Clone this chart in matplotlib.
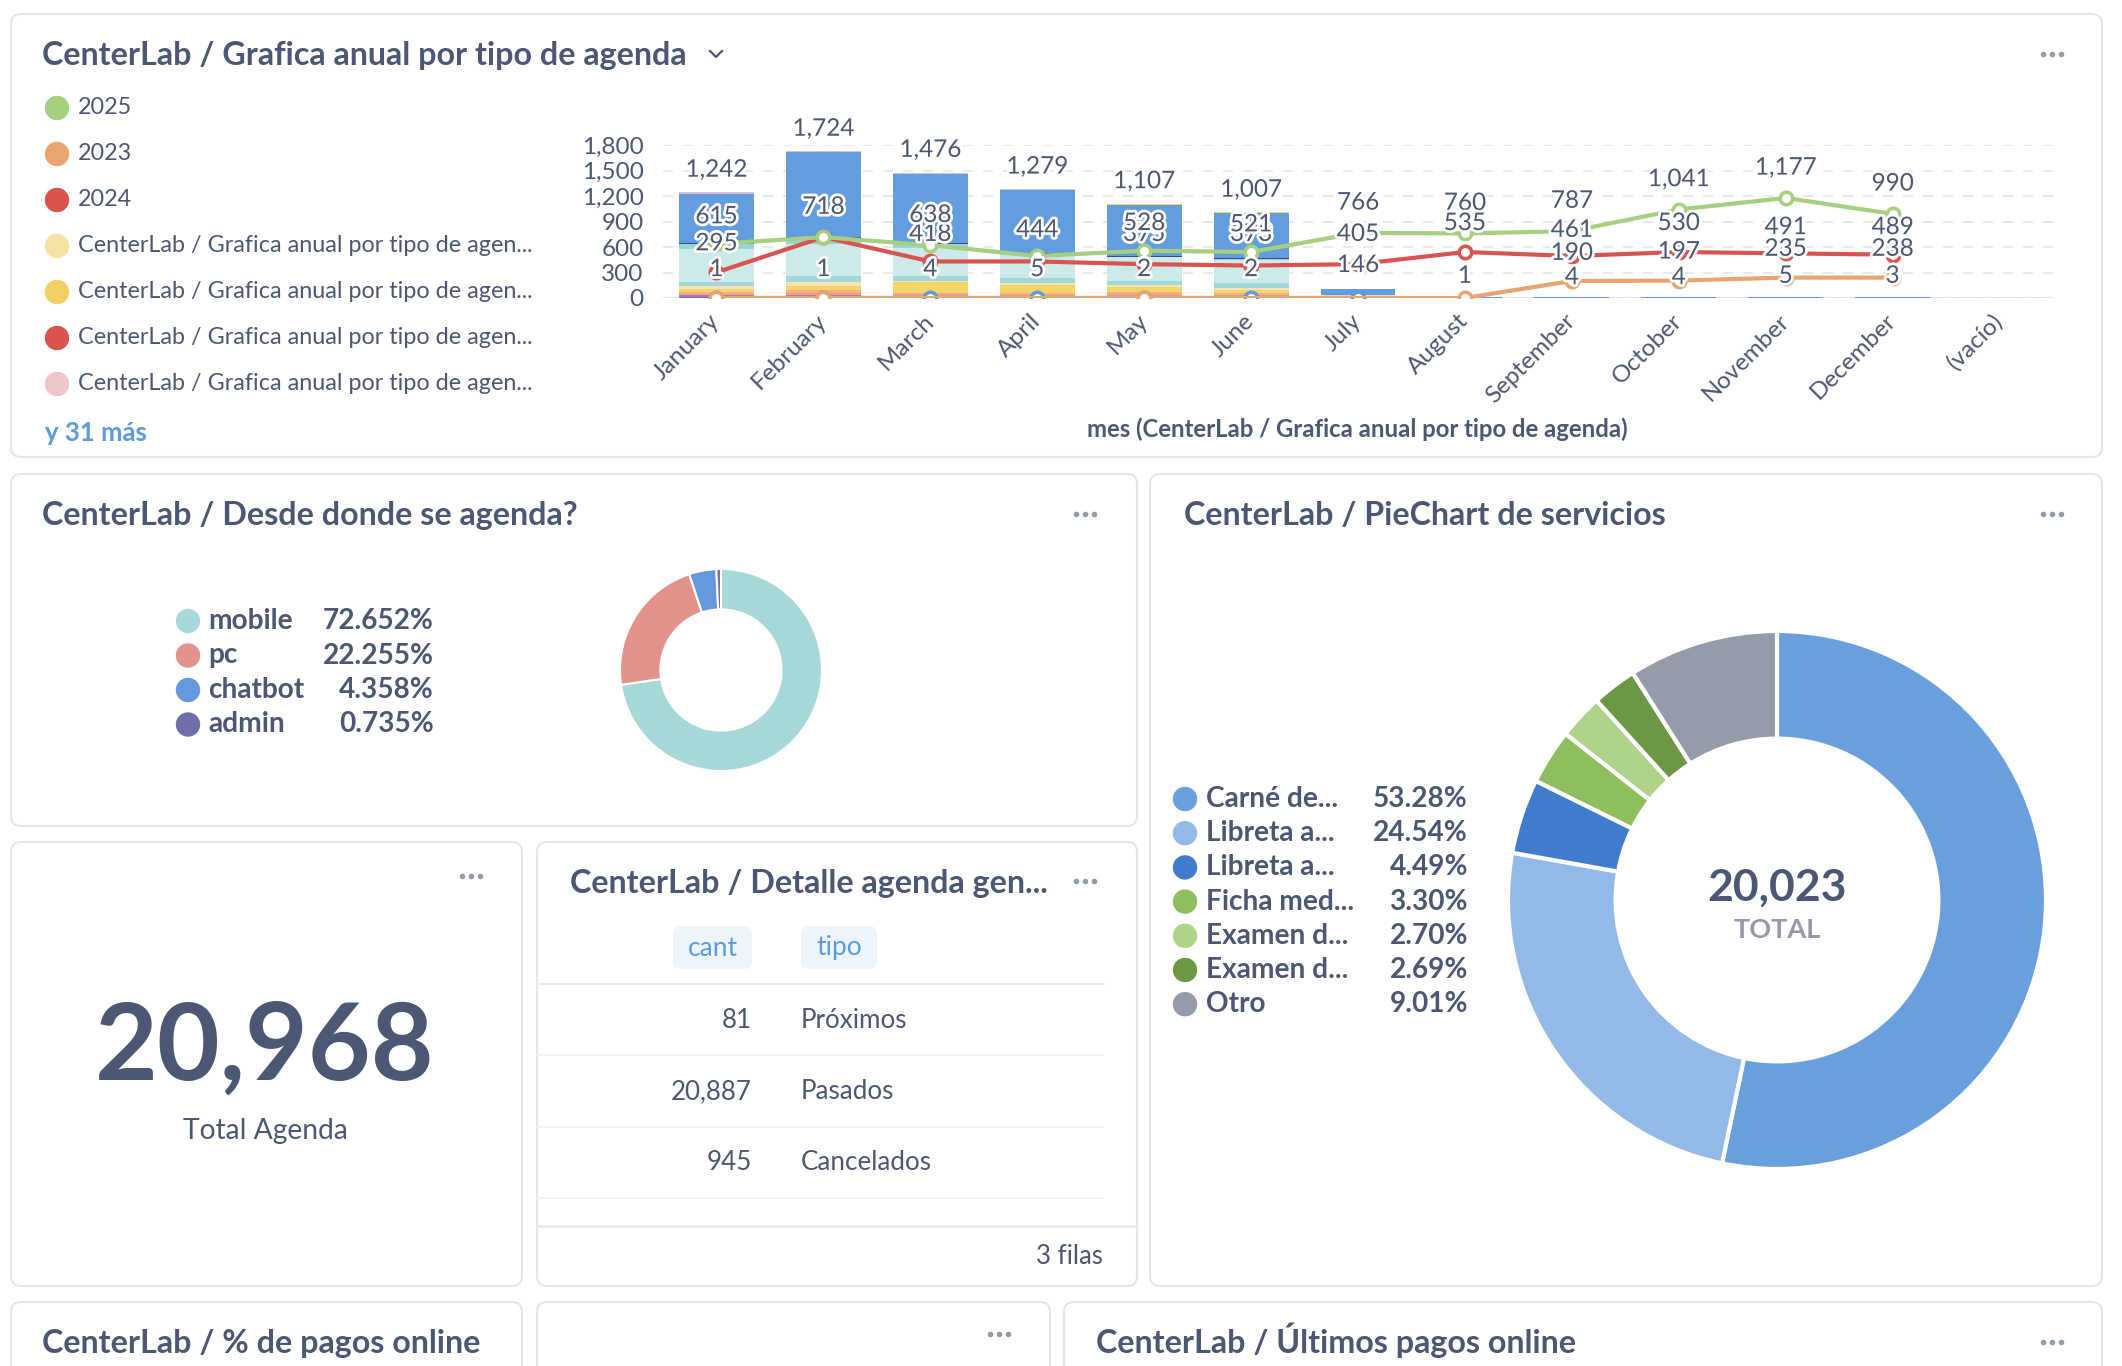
import matplotlib
matplotlib.use("Agg")
import matplotlib.pyplot as plt
import matplotlib.patheffects as pe
from matplotlib.patches import FancyBboxPatch, Circle
import numpy as np

plt.rcParams["font.family"] = ["Lato", "DejaVu Sans"]

# ---------------- data ----------------
months = ["January", "February", "March", "April", "May", "June", "July",
          "August", "September", "October", "November", "December", "(vacío)"]

# stacked bar segments, bottom -> top (one value per month)
seg_indigo = [10, 10, 8, 8, 8, 6, 0, 0, 0, 0, 0, 0, 0]
seg_magenta = [25, 30, 20, 15, 20, 15, 0, 0, 0, 0, 0, 0, 0]
seg_pink = [15, 20, 15, 12, 15, 12, 0, 0, 0, 0, 0, 0, 0]
seg_orange = [25, 30, 20, 20, 30, 20, 0, 0, 0, 0, 0, 0, 0]
seg_yellow = [35, 55, 120, 100, 55, 40, 0, 0, 0, 0, 0, 0, 0]
seg_cream = [30, 40, 20, 25, 20, 25, 0, 0, 0, 0, 0, 0, 0]
seg_teal = [50, 75, 60, 60, 55, 55, 0, 0, 0, 0, 0, 0, 0]
seg_lightteal = [390, 375, 330, 270, 275, 270, 40, 0, 0, 0, 0, 0, 0]
seg_teal2 = [55, 75, 40, 10, 10, 10, 0, 0, 0, 0, 0, 0, 0]
seg_navy = [15, 12, 15, 15, 12, 12, 0, 0, 0, 0, 0, 0, 0]
seg_blue = [577, 990, 816, 732, 592, 530, 70, 8, 8, 8, 8, 8, 0]
seg_cap_lilac = [15, 12, 12, 12, 0, 0, 0, 0, 0, 0, 0, 0, 0]
seg_cap_yellow = [0, 0, 0, 0, 15, 12, 0, 0, 0, 0, 0, 0, 0]

# lines per year (12 months)
line_2025 = [637, 716, 621, 494, 557, 541, 766, 760, 787, 1041, 1177, 990]
line_2024 = [302, 716, 430, 430, 398, 382, 398, 541, 494, 541, 525, 510]
line_2023 = [0, 0, 0, 0, 0, 0, 0, 0, 200, 205, 240, 240]
line_base = [0, 0, 0, 0, 0, 0, 0]

# data labels
top_labels = [1242, 1724, 1476, 1279, 1107, 1007, 766, 760, 787, 1041, 1177, 990]
lbl_a = ["615", "718", "638", "444", "528", "521", "405", "535", "461", "530", "491", "489"]
lbl_a_y = [955, 1067, 971, 796, 876, 860, 748, 876, 796, 876, 828, 828]
lbl_b = ["295", None, "418", None, "375", "373", None, None, None, None, None, None]
lbl_b_y = [637, 0, 748, 0, 748, 748, 0, 0, 0, 0, 0, 0]
lbl_c = [None, None, None, None, None, None, "146", None, "190", "197", "235", "238"]
lbl_c_y = [0, 0, 0, 0, 0, 0, 382, 0, 525, 541, 573, 573]
lbl_d = ["1", "1", "4", "5", "2", "2", None, "1", "4", "4", "5", "3"]
lbl_d_y = [334, 334, 334, 334, 334, 334, 0, 255, 239, 239, 255, 255]

legend_names = ["2025", "2023", "2024",
                "CenterLab / Grafica anual por tipo de agen...",
                "CenterLab / Grafica anual por tipo de agen...",
                "CenterLab / Grafica anual por tipo de agen...",
                "CenterLab / Grafica anual por tipo de agen..."]
legend_more = "y 31 más"

desde_labels = ["mobile", "pc", "chatbot", "admin"]
desde_pct = [72.652, 22.255, 4.358, 0.735]

serv_labels = ["Carné de...", "Libreta a...", "Libreta a...", "Ficha med...",
               "Examen d...", "Examen d...", "Otro"]
serv_pct = [53.28, 24.54, 4.49, 3.30, 2.70, 2.69, 9.01]
serv_total = 20023

kpi_total = 20968

tbl_cant = [81, 20887, 945]
tbl_tipo = ["Próximos", "Pasados", "Cancelados"]

# ---------------- figure ----------------
W, H = 2122, 1366
DARK = "#4C5773"
GRAY = "#949AAB"
fig = plt.figure(figsize=(W / 100, H / 100), dpi=100)
fig.patch.set_facecolor("white")

bg = fig.add_axes([0, 0, 1, 1])
bg.set_xlim(0, W)
bg.set_ylim(H, 0)
bg.axis("off")


def box(x0, y0, x1, y1):
    return [x0 / W, 1 - y1 / H, (x1 - x0) / W, (y1 - y0) / H]


def card(x0, y0, x1, y1):
    bg.add_patch(FancyBboxPatch((x0, y0), x1 - x0, y1 - y0,
                                boxstyle="round,pad=0,rounding_size=10",
                                fc="white", ec="#E3E5EA", lw=1.5))


def dots(x, y):
    bg.scatter([x - 9, x, x + 9], [y, y, y], s=9, color=GRAY, zorder=5)


def title(x, y, s):
    # baseline-anchored so accents don't shift the line
    bg.text(x, y + 8, s, fontsize=23.2, fontweight="bold", color=DARK, va="baseline")


card(11, 14, 2102, 457)
card(11, 474, 1137, 826)
card(1150, 474, 2102, 1286)
card(11, 842, 522, 1286)
card(537, 842, 1137, 1286)
card(11, 1302, 522, 1400)
card(537, 1302, 1050, 1400)
card(1064, 1302, 2102, 1400)

# ---------- top card: annual chart ----------
title(42, 57, "CenterLab / Grafica anual por tipo de agenda")
bg.plot([710, 716, 722], [51, 57, 51], color=DARK, lw=1.6)
dots(2052, 54)

legend_colors = ["#A6CF80", "#E9A56F", "#D9534F", "#F6E3A3", "#F2CF62", "#D9534F", "#F1C4C6"]
for i, (name, col) in enumerate(zip(legend_names, legend_colors)):
    y = 108 + i * 46
    bg.add_patch(Circle((57, y), 11.5, color=col))
    bg.text(78, y, name, fontsize=16.8, color=DARK, va="center")
bg.text(45, 433, legend_more, fontsize=18.5, fontweight="bold", color="#5C9BDD", va="center")

ax = fig.add_axes(box(663, 145, 2053, 298))
ax.set_facecolor("none")
x = np.arange(len(months))
segments = [
    (seg_indigo, "#6E72AE"), (seg_magenta, "#B872B0"), (seg_pink, "#EE9A9A"),
    (seg_orange, "#F2B27A"), (seg_yellow, "#F5D468"), (seg_cream, "#F5E2B8"),
    (seg_teal, "#9FD8D8"), (seg_lightteal, "#CDEAEA"), (seg_teal2, "#98D4D4"),
    (seg_navy, "#3E4C7E"), (seg_blue, "#619DDF"), (seg_cap_lilac, "#D9BFDD"),
    (seg_cap_yellow, "#F5D468"),
]
bottom = np.zeros(len(months))
for vals, col in segments:
    ax.bar(x, vals, width=0.7, bottom=bottom, color=col, zorder=2)
    bottom += np.array(vals)

xm = np.arange(12)
ax.plot(np.arange(len(line_base)), line_base, color="#5C9BDD", lw=3, marker="o",
        ms=9, mfc="white", mew=2.5, zorder=4)
ax.plot(xm, line_2023, color="#E9A56F", lw=3, marker="o", ms=9, mfc="white",
        mew=2.5, markevery=[0, 1, 4, 7, 8, 9, 10, 11], zorder=5)
ax.plot(xm, line_2024, color="#D9534F", lw=3, marker="o", ms=9, mfc="white",
        mew=2.5, zorder=5)
ax.plot(xm, line_2025, color="#A6CF80", lw=3, marker="o", ms=9, mfc="white",
        mew=2.5, zorder=6)

halo = [pe.withStroke(linewidth=4, foreground="white")]
lab_kw = dict(fontsize=17.5, color=DARK, ha="center", va="center", zorder=10,
              path_effects=halo, clip_on=False)
for i in range(12):
    top = max(bottom[i], line_2025[i])
    off = 16 if bottom[i] >= line_2025[i] else 21.5
    ax.annotate(f"{top_labels[i]:,}", (i, top), xytext=(0, off),
                textcoords="offset points", **lab_kw)
for labs, ys in [(lbl_d, lbl_d_y), (lbl_c, lbl_c_y), (lbl_b, lbl_b_y), (lbl_a, lbl_a_y)]:
    for i, (t, yv) in enumerate(zip(labs, ys)):
        if t is not None:
            ax.text(i, yv, t, **lab_kw)

ax.set_xlim(-0.5, len(months) - 0.5)
ax.set_ylim(0, 1800)
ax.set_yticks(range(0, 1801, 300))
ax.set_yticklabels([f"{v:,}" for v in range(0, 1801, 300)])
ax.set_xticks(x)
ax.set_xticklabels(months, rotation=45, ha="right", va="center", rotation_mode="anchor")
ax.tick_params(length=0, labelsize=17.5, labelcolor=DARK)
ax.tick_params(axis="y", pad=14)
ax.tick_params(axis="x", pad=14)
for s in ax.spines.values():
    s.set_visible(False)
ax.grid(axis="y", color="#E4E5EA", lw=1.2, ls=(0, (6, 6)), zorder=0)
ax.axhline(0, color="#E0E1E5", lw=1.5, zorder=1)
bg.text(1357, 429, "mes (CenterLab / Grafica anual por tipo de agenda)", fontsize=17.2,
        fontweight="bold", color=DARK, ha="center", va="center")

# ---------- desde donde se agenda ----------
title(42, 517, "CenterLab / Desde donde se agenda?")
dots(1085, 514)
desde_colors = ["#A7D8D8", "#E3938C", "#6499DE", "#6E6EA8"]
for i, (lab, p, col) in enumerate(zip(desde_labels, desde_pct, desde_colors)):
    y = 621 + i * 34.5
    bg.add_patch(Circle((188, y), 11.5, color=col))
    bg.text(208, y, lab, fontsize=20.2, fontweight="bold", color=DARK, va="center")
    bg.text(434, y, f"{p:.3f}%", fontsize=20.2, fontweight="bold", color=DARK,
            va="center", ha="right")
pa = fig.add_axes(box(620, 569, 822, 771))
pa.pie(desde_pct, colors=desde_colors, startangle=90, counterclock=False, radius=1,
       wedgeprops=dict(width=0.4, edgecolor="white", linewidth=1.5))
pa.set_xlim(-1, 1)
pa.set_ylim(-1, 1)
pa.set_aspect("equal")

# ---------- pie chart de servicios ----------
title(1184, 517, "CenterLab / PieChart de servicios")
dots(2052, 514)
serv_colors = ["#6A9FDD", "#93BAE6", "#3F7CCB", "#8FBE5E", "#B0D38B", "#6E9745", "#959BA8"]
for i, (lab, p, col) in enumerate(zip(serv_labels, serv_pct, serv_colors)):
    y = 799 + i * 34.2
    bg.add_patch(Circle((1185, y), 11.5, color=col))
    bg.text(1206, y, lab, fontsize=20.2, fontweight="bold", color=DARK, va="center")
    bg.text(1468, y, f"{p:.2f}%", fontsize=20.2, fontweight="bold", color=DARK,
            va="center", ha="right")
pb = fig.add_axes(box(1508, 631, 2046, 1169))
pb.pie(serv_pct, colors=serv_colors, startangle=90, counterclock=False, radius=1,
       wedgeprops=dict(width=0.4, edgecolor="white", linewidth=3))
pb.set_xlim(-1, 1)
pb.set_ylim(-1, 1)
pb.set_aspect("equal")
pb.text(0, 0.045, f"{serv_total:,}", fontsize=32, fontweight="bold", color=DARK,
        ha="center", va="center")
pb.text(0, -0.11, "TOTAL", fontsize=19.5, fontweight="bold", color=GRAY,
        ha="center", va="center")

# ---------- KPI ----------
dots(471, 876)
bg.text(265, 1049, f"{kpi_total:,}", fontsize=78, fontweight="bold", color=DARK,
        ha="center", va="center")
bg.text(265, 1131, "Total Agenda", fontsize=20.3, color=DARK, ha="center", va="center")

# ---------- table ----------
title(570, 885, "CenterLab / Detalle agenda gen...")
dots(1085, 881)
for x0, x1, t in [(673, 752, "cant"), (801, 877, "tipo")]:
    bg.add_patch(FancyBboxPatch((x0, 926), x1 - x0, 43,
                                boxstyle="round,pad=0,rounding_size=8",
                                fc="#EEF4FB", ec="none"))
    bg.text((x0 + x1) / 2, 948, t, fontsize=19, color="#5C9BDD", ha="center", va="center")
bg.plot([537, 1103], [984, 984], color="#E8E9ED", lw=1.5)
for i, (c, t) in enumerate(zip(tbl_cant, tbl_tipo)):
    y = 1020 + i * 71.5
    bg.text(752, y, f"{c:,}", fontsize=18.7, color=DARK, ha="right", va="center")
    bg.text(801, y, t, fontsize=18.7, color=DARK, ha="left", va="center")
    bg.plot([537, 1103], [y + 35, y + 35], color="#F0F1F4", lw=1.2)
bg.plot([537, 1137], [1226, 1226], color="#E8E9ED", lw=2)
bg.text(1103, 1257, "3 filas", fontsize=18.5, color=DARK, ha="right", va="center")

# ---------- bottom row ----------
title(42, 1345, "CenterLab / % de pagos online")
dots(999, 1334)
title(1096, 1345, "CenterLab / Últimos pagos online")
dots(2052, 1342)

fig.savefig("out.png", dpi=100, facecolor="white")
